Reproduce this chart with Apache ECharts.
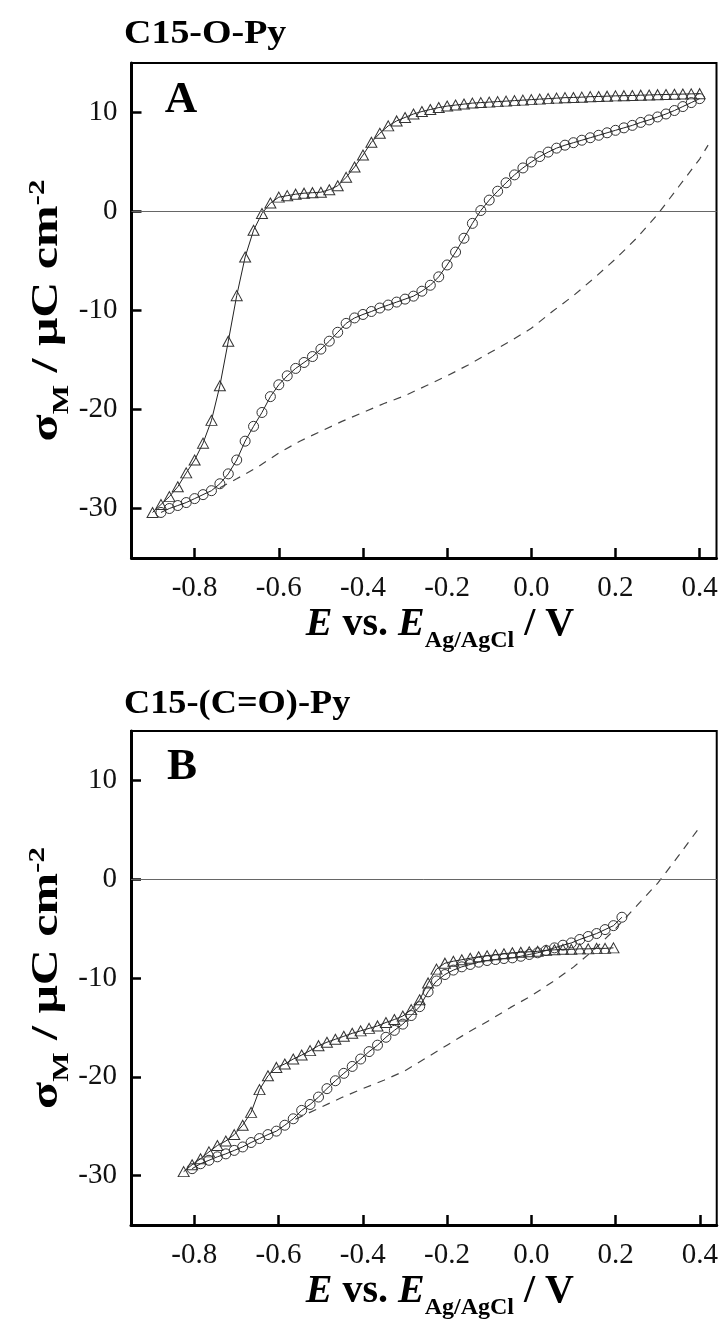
<!DOCTYPE html>
<html>
<head>
<meta charset="utf-8">
<script src="https://cdn.jsdelivr.net/npm/echarts@6/dist/echarts.min.js"></script>
<style>
html,body{margin:0;padding:0;background:#fff;}
#c{width:721px;height:1322px;}
</style>
</head>
<body>
<div id="c"></div>
<script>
// ---- tick labels ----
const xTicks = [-0.8, -0.6, -0.4, -0.2, 0.0, 0.2, 0.4];
const yTicks = [-30, -20, -10, 0, 10];

// ---- Panel A: C15-O-Py ----
const aTriE = [-0.90,-0.88,-0.86,-0.84,-0.82,-0.80,-0.78,-0.76,-0.74,-0.72,-0.70,-0.68,-0.66,-0.64,-0.62,-0.60,-0.58,-0.56,-0.54,-0.52,-0.50,-0.48,-0.46,-0.44,-0.42,-0.40,-0.38,-0.36,-0.34,-0.32,-0.30,-0.28,-0.26,-0.24,-0.22,-0.20,-0.18,-0.16,-0.14,-0.12,-0.10,-0.08,-0.06,-0.04,-0.02,0.00,0.02,0.04,0.06,0.08,0.10,0.12,0.14,0.16,0.18,0.20,0.22,0.24,0.26,0.28,0.30,0.32,0.34,0.36,0.38,0.40];
const aTriQ = [-30.4,-29.6,-28.8,-27.8,-26.4,-25.1,-23.4,-21.1,-17.6,-13.1,-8.5,-4.6,-1.9,-0.2,0.85,1.45,1.6,1.75,1.85,1.9,1.95,2.2,2.6,3.45,4.5,5.7,7.0,7.9,8.65,9.15,9.5,9.85,10.1,10.3,10.5,10.65,10.75,10.85,10.95,11.0,11.05,11.1,11.15,11.2,11.25,11.3,11.35,11.4,11.45,11.5,11.52,11.55,11.6,11.62,11.65,11.68,11.7,11.72,11.75,11.77,11.8,11.82,11.84,11.86,11.88,11.9];

const aCirE = [0.40,0.38,0.36,0.34,0.32,0.30,0.28,0.26,0.24,0.22,0.20,0.18,0.16,0.14,0.12,0.10,0.08,0.06,0.04,0.02,0.00,-0.02,-0.04,-0.06,-0.08,-0.10,-0.12,-0.14,-0.16,-0.18,-0.20,-0.22,-0.24,-0.26,-0.28,-0.30,-0.32,-0.34,-0.36,-0.38,-0.40,-0.42,-0.44,-0.46,-0.48,-0.50,-0.52,-0.54,-0.56,-0.58,-0.60,-0.62,-0.64,-0.66,-0.68,-0.70,-0.72,-0.74,-0.76,-0.78,-0.80,-0.82,-0.84,-0.86,-0.88];
const aCirQ = [11.4,11.0,10.6,10.2,9.85,9.55,9.25,9.0,8.7,8.45,8.2,7.95,7.7,7.45,7.2,6.95,6.7,6.4,6.0,5.55,5.0,4.4,3.7,2.9,2.05,1.15,0.1,-1.2,-2.7,-4.1,-5.4,-6.6,-7.45,-8.05,-8.55,-8.85,-9.15,-9.45,-9.75,-10.1,-10.4,-10.75,-11.3,-12.2,-13.1,-13.9,-14.65,-15.25,-15.85,-16.6,-17.5,-18.7,-20.3,-21.7,-23.2,-25.1,-26.5,-27.5,-28.2,-28.6,-29.0,-29.4,-29.7,-30.0,-30.4];

const aDashE = [-0.74,-0.70,-0.65,-0.60,-0.55,-0.50,-0.45,-0.40,-0.35,-0.30,-0.25,-0.20,-0.15,-0.10,-0.05,0.00,0.05,0.10,0.15,0.20,0.25,0.30,0.35,0.40,0.42];
const aDashQ = [-27.9,-27.0,-25.8,-24.4,-23.2,-22.2,-21.2,-20.3,-19.4,-18.6,-17.6,-16.6,-15.5,-14.3,-13.1,-11.8,-10.1,-8.5,-6.7,-4.8,-2.7,-0.3,2.5,5.3,6.7];

// ---- Panel B: C15-(C=O)-Py ----
const bTriE = [-0.825,-0.805,-0.785,-0.765,-0.745,-0.725,-0.705,-0.685,-0.665,-0.645,-0.625,-0.605,-0.585,-0.565,-0.545,-0.525,-0.505,-0.485,-0.465,-0.445,-0.425,-0.405,-0.385,-0.365,-0.345,-0.325,-0.305,-0.285,-0.265,-0.245,-0.225,-0.205,-0.185,-0.165,-0.145,-0.125,-0.105,-0.085,-0.065,-0.045,-0.025,-0.005,0.015,0.035,0.055,0.075,0.095,0.115,0.135,0.155,0.175,0.195];
const bTriQ = [-29.6,-28.9,-28.3,-27.6,-26.95,-26.5,-25.85,-24.9,-23.6,-21.3,-19.9,-19.05,-18.7,-18.2,-17.8,-17.35,-16.85,-16.5,-16.2,-15.9,-15.6,-15.35,-15.1,-14.85,-14.5,-14.2,-13.85,-13.2,-12.2,-10.5,-9.1,-8.5,-8.3,-8.15,-8.0,-7.85,-7.75,-7.65,-7.55,-7.45,-7.4,-7.35,-7.3,-7.2,-7.15,-7.1,-7.1,-7.05,-7.05,-7.0,-7.0,-6.95];

const bCirE = [0.215,0.195,0.175,0.155,0.135,0.115,0.095,0.075,0.055,0.035,0.015,-0.005,-0.025,-0.045,-0.065,-0.085,-0.105,-0.125,-0.145,-0.165,-0.185,-0.205,-0.225,-0.245,-0.265,-0.285,-0.305,-0.325,-0.345,-0.365,-0.385,-0.405,-0.425,-0.445,-0.465,-0.485,-0.505,-0.525,-0.545,-0.565,-0.585,-0.605,-0.625,-0.645,-0.665,-0.685,-0.705,-0.725,-0.745,-0.765,-0.785,-0.805];
const bCirQ = [-3.85,-4.7,-5.1,-5.5,-5.8,-6.1,-6.45,-6.68,-6.95,-7.22,-7.45,-7.62,-7.8,-7.96,-8.03,-8.13,-8.23,-8.4,-8.63,-8.87,-9.2,-9.65,-10.3,-11.4,-12.9,-13.8,-14.67,-15.3,-16.0,-16.8,-17.45,-18.2,-18.95,-19.65,-20.4,-21.2,-22.05,-22.8,-23.4,-24.25,-24.9,-25.5,-25.85,-26.25,-26.65,-27.1,-27.45,-27.8,-28.1,-28.45,-28.8,-29.3];

const bDashE = [-0.56,-0.50,-0.45,-0.40,-0.35,-0.30,-0.25,-0.20,-0.15,-0.10,-0.05,0.00,0.05,0.10,0.15,0.20,0.25,0.30,0.35,0.40];
const bDashQ = [-24.3,-23.1,-22.1,-21.2,-20.35,-19.4,-18.1,-16.8,-15.5,-14.3,-13.0,-11.8,-10.4,-8.9,-7.1,-5.0,-2.7,-0.4,2.4,5.3];

const panelTitles = ['C15-O-Py', 'C15-(C=O)-Py'];
const panelLetters = ['A', 'B'];
const yTitle = '{b|σ}{s|M}{b| / μC cm}{p|-2}';
const xTitle = '{i|E}{b| vs. }{i|E}{s|Ag/AgCl}{b| / V}';

const SERIF = "'Liberation Serif','Times New Roman',serif";
const zip = (xs, ys) => xs.map((x, i) => [x, ys[i]]);

const grids = [
  {left: 131.5, top: 63, width: 585, height: 495},
  {left: 131, top: 731, width: 586, height: 494}
];

function xAxisFor(i) {
  return {
    type: 'value', gridIndex: i, min: -0.95, max: 0.44,
    axisLine: {show: true, onZero: false, lineStyle: {color: '#000', width: 3}},
    axisTick: {show: true, inside: true, length: 10, customValues: xTicks, lineStyle: {color: '#000', width: 2.5}},
    axisLabel: {customValues: xTicks, formatter: v => Number(v).toFixed(1), fontFamily: SERIF, fontSize: 29, color: '#111', margin: 16},
    splitLine: {show: false},
    name: xTitle,
    nameLocation: 'middle', nameGap: 46,
    nameTextStyle: {
      padding: [0, 0, 0, 32],
      rich: {
        i: {fontFamily: SERIF, fontSize: 40, fontWeight: 'bold', fontStyle: 'italic', color: '#000', lineHeight: 42},
        b: {fontFamily: SERIF, fontSize: 40, fontWeight: 'bold', color: '#000', lineHeight: 42},
        s: {fontFamily: SERIF, fontSize: 24, fontWeight: 'bold', color: '#000', lineHeight: 24, verticalAlign: 'bottom', padding: [0, 0, -7, 0]}
      }
    }
  };
}
function yAxisFor(i) {
  return {
    type: 'value', gridIndex: i, min: -35, max: 15,
    axisLine: {show: true, onZero: false, lineStyle: {color: '#000', width: 3}},
    axisTick: {show: true, inside: true, length: 10, customValues: yTicks, lineStyle: {color: '#000', width: 2.5}},
    axisLabel: {customValues: yTicks, fontFamily: SERIF, fontSize: 29, color: '#111', margin: 14},
    splitLine: {show: false}
  };
}

const lineColor = '#222';
function curves(i, triE, triQ, cirE, cirQ, dashE, dashQ) {
  return [
    {
      type: 'line', xAxisIndex: i, yAxisIndex: i, data: zip(dashE, dashQ),
      showSymbol: false, symbol: 'none', smooth: false,
      lineStyle: {color: '#444', width: 1.2, type: [8, 7]},
      silent: true, z: 2,
      markLine: {
        silent: true, symbol: ['none', 'none'], label: {show: false},
        lineStyle: {color: '#666', width: 1, type: 'solid'},
        data: [{yAxis: 0}]
      }
    },
    {
      type: 'line', xAxisIndex: i, yAxisIndex: i, data: zip(cirE, cirQ),
      symbol: 'circle', symbolSize: 10, showAllSymbol: true,
      itemStyle: {color: 'rgba(0,0,0,0)', borderColor: '#333', borderWidth: 1},
      lineStyle: {color: lineColor, width: 1}, silent: true, z: 3
    },
    {
      type: 'line', xAxisIndex: i, yAxisIndex: i, data: zip(triE, triQ),
      symbol: 'triangle', symbolSize: [11, 10], showAllSymbol: true,
      itemStyle: {color: 'rgba(0,0,0,0)', borderColor: '#333', borderWidth: 1},
      lineStyle: {color: lineColor, width: 1}, silent: true, z: 4
    }
  ];
}

const yRich = {
  b: {fontFamily: SERIF, fontSize: 37, fontWeight: 'bold', fill: '#000', lineHeight: 40},
  s: {fontFamily: SERIF, fontSize: 23, fontWeight: 'bold', fill: '#000', lineHeight: 23, verticalAlign: 'bottom', padding: [0, 0, -7, 0]},
  p: {fontFamily: SERIF, fontSize: 23, fontWeight: 'bold', fill: '#000', lineHeight: 23, verticalAlign: 'top'}
};
function yName(cy) {
  return {
    type: 'text', x: 47, y: cy, rotation: Math.PI / 2, scaleX: 1.35, scaleY: 1,
    style: {text: yTitle, rich: yRich, align: 'center', verticalAlign: 'middle', fill: '#000'}
  };
}

const chart = echarts.init(document.getElementById('c'), null, {renderer: 'canvas'});
chart.setOption({
  backgroundColor: '#fff',
  animation: false,
  grid: grids.map(g => Object.assign({show: true, borderColor: '#000', borderWidth: 2, backgroundColor: 'transparent'}, g)),
  xAxis: [xAxisFor(0), xAxisFor(1)],
  yAxis: [yAxisFor(0), yAxisFor(1)],
  series: [
    ...curves(0, aTriE, aTriQ, aCirE, aCirQ, aDashE, aDashQ),
    ...curves(1, bTriE, bTriQ, bCirE, bCirQ, bDashE, bDashQ)
  ],
  graphic: [
    {type: 'text', x: 124, y: 34, scaleX: 1.15, style: {text: panelTitles[0], font: "bold 33px 'Liberation Serif', serif", fill: '#000', align: 'left', verticalAlign: 'middle'}},
    {type: 'text', x: 124, y: 704, scaleX: 1.1, style: {text: panelTitles[1], font: "bold 33px 'Liberation Serif', serif", fill: '#000', align: 'left', verticalAlign: 'middle'}},
    {type: 'text', x: 181, y: 100, style: {text: panelLetters[0], font: "bold 45px 'Liberation Serif', serif", fill: '#000', align: 'center', verticalAlign: 'middle'}},
    {type: 'text', x: 182, y: 767, style: {text: panelLetters[1], font: "bold 45px 'Liberation Serif', serif", fill: '#000', align: 'center', verticalAlign: 'middle'}},
    yName(310.5),
    yName(978)
  ]
});
</script>
</body>
</html>
